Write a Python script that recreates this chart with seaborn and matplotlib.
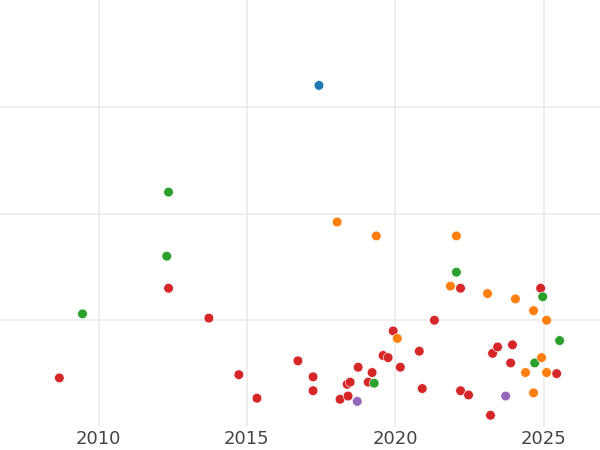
import pandas as pd
import seaborn as sb
from matplotlib import pyplot as plt

# one list of years and one of values per colour group
blue_x = [2017.43]
blue_y = [3.20]

orange_x = [2018.04, 2019.36, 2022.06, 2021.86, 2023.11, 2024.05, 2024.66, 2025.10,
            2020.07, 2024.93, 2024.39, 2025.10, 2024.66]
orange_y = [1.92, 1.79, 1.79, 1.32, 1.25, 1.20, 1.09, 1.00,
            0.83, 0.65, 0.51, 0.51, 0.32]

green_x = [2012.36, 2012.30, 2009.46, 2022.06, 2024.97, 2025.54, 2024.70, 2019.29]
green_y = [2.20, 1.60, 1.06, 1.45, 1.22, 0.81, 0.60, 0.41]

red_x = [2008.68, 2012.36, 2013.72, 2014.73, 2015.34, 2016.72, 2017.23, 2017.23,
         2018.14, 2018.38, 2018.48, 2018.41, 2018.75, 2019.09, 2019.22, 2019.59,
         2019.76, 2019.93, 2020.17, 2020.81, 2020.91, 2021.32, 2022.20, 2022.20,
         2022.47, 2023.21, 2023.28, 2023.45, 2023.95, 2023.89, 2024.90, 2025.44]
red_y = [0.46, 1.30, 1.02, 0.49, 0.27, 0.62, 0.47, 0.34,
         0.26, 0.40, 0.42, 0.29, 0.56, 0.42, 0.51, 0.67,
         0.65, 0.90, 0.56, 0.71, 0.36, 1.00, 1.30, 0.34,
         0.30, 0.11, 0.69, 0.75, 0.77, 0.60, 1.30, 0.50]

purple_x = [2018.72, 2023.72]
purple_y = [0.24, 0.29]

groups = ['A', 'B', 'C', 'D', 'E']

frames = []
for g, xs, ys in [('D', red_x, red_y), ('E', purple_x, purple_y), ('C', green_x, green_y),
                  ('B', orange_x, orange_y), ('A', blue_x, blue_y)]:
    frames.append(pd.DataFrame({'year': xs, 'value': ys, 'group': g}))
data = pd.concat(frames, ignore_index=True)

sb.set_style("whitegrid", {'grid.color': '#ebebeb', 'axes.edgecolor': 'white'})

fig = plt.figure(figsize=(6, 4.5), dpi=100)
ax = fig.add_axes([0, 1 - 427 / 450, 1, 427 / 450])

sb.scatterplot(data=data, x='year', y='value', hue='group', hue_order=groups,
               palette='tab10', s=48, linewidth=0.4, edgecolor='white',
               legend=False, ax=ax)

ax.set_xlim(2006.68, 2026.90)
ax.set_ylim(0, 4)
ax.set_xticks([2010, 2015, 2020, 2025])
ax.set_yticks([1, 2, 3])
ax.set_yticklabels([])
ax.tick_params(axis='x', labelsize=13, colors='#444444', length=0, pad=2)
ax.tick_params(axis='y', length=0)
ax.grid(True, linewidth=1.2)
ax.set_xlabel('')
ax.set_ylabel('')
for s in ax.spines.values():
    s.set_visible(False)

fig.savefig('out.png', dpi=100)
